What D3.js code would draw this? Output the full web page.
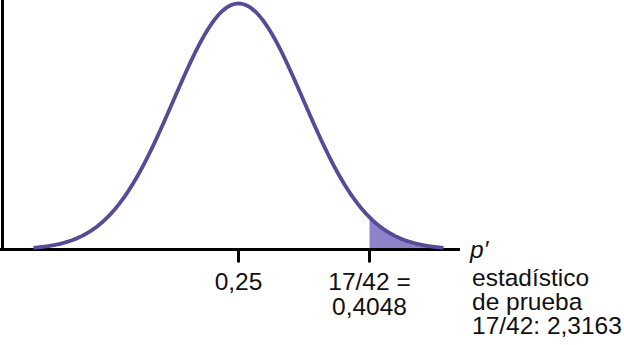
<!DOCTYPE html>
<html>
<head>
<meta charset="utf-8">
<script src="https://cdn.jsdelivr.net/npm/d3@7"></script>
<style>
  html, body { margin: 0; padding: 0; background: #fff; }
  svg { display: block; font-family: "Liberation Sans", Arial, sans-serif; }
</style>
</head>
<body>
<svg id="chart" width="624" height="345"></svg>
<script>
// Sampling distribution of p' with the right tail beyond the observed value shaded
const mean = 0.25;
const spread = 0.0768;           // drawn spread of the bell curve
const observed = 0.4048;         // 17/42
const curveRange = [0.0078, 0.4922];
const tickValues = [0.25, 0.4048];
const tickLabels = [["0,25"], ["17/42 =", "0,4048"]];
const axisLabel = "p′";
const statLines = ["estadístico", "de prueba", "17/42: 2,3163"];

const stroke = "#564b96";
const fill = "#8e82c8";

const svg = d3.select("#chart");

const x = d3.scaleLinear().domain([mean, observed]).range([238.5, 369.5]);
const pdf = v => Math.exp(-0.5 * ((v - mean) / spread) ** 2) / (spread * Math.sqrt(2 * Math.PI));
const y = d3.scaleLinear().domain([0, pdf(mean)]).range([249.5, 3.5]);

const n = 400;
const pts = d3.range(n + 1).map(i => curveRange[0] + (curveRange[1] - curveRange[0]) * i / n);
const tailPts = pts.filter(v => v >= observed);
tailPts.unshift(observed);

// shaded right tail
const area = d3.area().x(d => x(d)).y0(y(0)).y1(d => y(pdf(d)));
svg.append("path").datum(tailPts).attr("d", area).attr("fill", fill);

// axes
const axisG = svg.append("g").attr("stroke", "#000").attr("stroke-width", 3);
axisG.append("line").attr("x1", 2.5).attr("x2", 2.5).attr("y1", 0).attr("y2", y(0) + 1.5);
axisG.append("line").attr("x1", 0).attr("x2", x(x.invert(460))).attr("y1", y(0)).attr("y2", y(0));
axisG.selectAll("line.tick").data(tickValues).join("line")
  .attr("class", "tick")
  .attr("x1", d => x(d)).attr("x2", d => x(d))
  .attr("y1", y(0)).attr("y2", y(0) + 13);

// bell curve
const line = d3.line().x(d => x(d)).y(d => y(pdf(d))).curve(d3.curveBasis);
svg.append("path").datum(pts).attr("d", line)
  .attr("fill", "none").attr("stroke", stroke).attr("stroke-width", 3.8)
  .attr("stroke-linecap", "butt");

// tick labels
const fs = 24.5;
tickValues.forEach((v, i) => {
  const t = svg.append("text").attr("x", x(v)).attr("y", 290)
    .attr("text-anchor", "middle").attr("font-size", fs).attr("fill", "#111");
  tickLabels[i].forEach((s, j) => {
    t.append("tspan").attr("x", x(v)).attr("dy", j === 0 ? 0 : 25).text(s);
  });
});

// axis label
svg.append("text").attr("x", 470).attr("y", 258)
  .attr("font-size", fs).attr("font-style", "italic").attr("fill", "#111").text(axisLabel);

// test statistic note
const note = svg.append("text").attr("x", 472).attr("y", 286)
  .attr("font-size", fs).attr("fill", "#111");
statLines.forEach((s, j) => {
  note.append("tspan").attr("x", 472).attr("dy", j === 0 ? 0 : 24).text(s);
});
</script>
</body>
</html>
